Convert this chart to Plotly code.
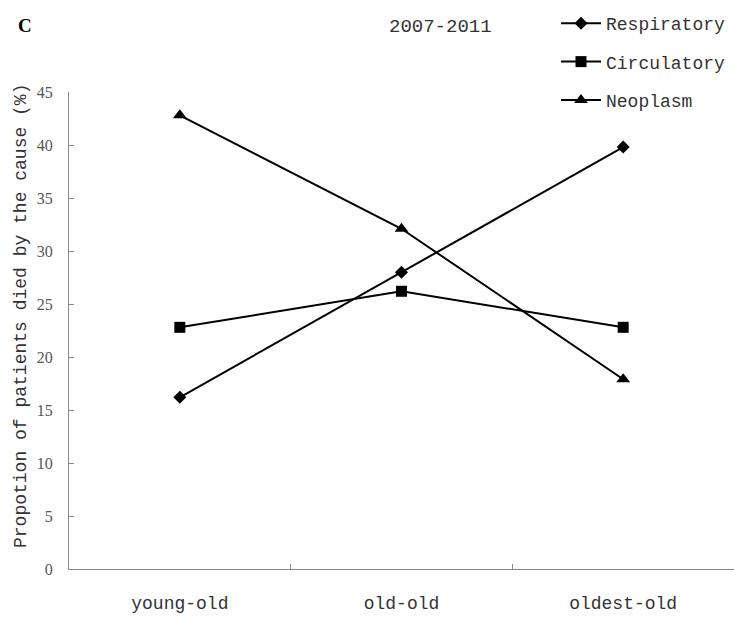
import plotly.graph_objects as go

# Age groups on the x axis
age_groups = ["young-old", "old-old", "oldest-old"]

# Share of deaths (%) by cause, 2007-2011
respiratory = [16.2, 28.0, 39.8]
circulatory = [22.8, 26.2, 22.8]
neoplasm = [42.8, 32.1, 17.9]

y_ticks = [0, 5, 10, 15, 20, 25, 30, 35, 40, 45]

mono = "Liberation Mono"
serif = "Liberation Serif"

W, H = 734, 617
ML, MR, MT, MB = 69, 0, 92, 48
plot_w = W - ML - MR
plot_h = H - MT - MB


def px_x(px):
    """Horizontal pixel position -> paper coordinate."""
    return (px - ML) / plot_w


def px_y(py):
    """Vertical pixel position (from top) -> paper coordinate."""
    return (H - MB - py) / plot_h


series = [
    ("Respiratory", respiratory, "diamond", 10),
    ("Circulatory", circulatory, "square", 11),
    ("Neoplasm", neoplasm, "triangle-up", 12),
]

fig = go.Figure()
for i, (name, vals, sym, size) in enumerate(series):
    fig.add_trace(go.Scatter(
        x=age_groups, y=vals, name=name, mode="lines+markers",
        legendgroup=f"g{i}",
        line=dict(color="black", width=2),
        marker=dict(symbol=sym, size=size, color="black"),
    ))

fig.update_layout(
    width=W, height=H,
    margin=dict(l=ML, r=MR, t=MT, b=MB, autoexpand=False),
    paper_bgcolor="white", plot_bgcolor="white",
    showlegend=True,
    legend=dict(
        x=px_x(556), y=px_y(5), xanchor="left", yanchor="top",
        font=dict(family=mono, size=18, color="#333"),
        itemwidth=40, tracegroupgap=12,
        bgcolor="rgba(0,0,0,0)",
    ),
    xaxis=dict(
        type="category", range=[-0.5, 2.5],
        showline=True, linecolor="#888", linewidth=1,
        ticks="inside", ticklen=5, tickcolor="#888",
        tickson="boundaries", showgrid=False, zeroline=False,
        tickfont=dict(family=mono, size=18, color="#333"),
        ticklabelstandoff=17,
    ),
    yaxis=dict(
        range=[0, 45], tickvals=y_ticks,
        showline=True, linecolor="#888", linewidth=1,
        ticks="inside", ticklen=5, tickcolor="#888",
        showgrid=False, zeroline=False,
        tickfont=dict(family=serif, size=16, color="#555"),
        ticklabelstandoff=12,
    ),
    annotations=[
        dict(text="<b>C</b>", x=px_x(25), y=px_y(25),
             xref="paper", yref="paper", xanchor="center", yanchor="middle",
             showarrow=False, font=dict(family=serif, size=19, color="black")),
        dict(text="2007-2011", x=px_x(440), y=px_y(27),
             xref="paper", yref="paper", xanchor="center", yanchor="middle",
             showarrow=False, font=dict(family=mono, size=19, color="#333")),
        dict(text="Propotion of patients died by the cause (%)",
             textangle=-90, x=px_x(21), y=px_y(316),
             xref="paper", yref="paper", xanchor="center", yanchor="middle",
             showarrow=False, font=dict(family=mono, size=18, color="#333")),
    ],
)

fig.write_html("out.html")
